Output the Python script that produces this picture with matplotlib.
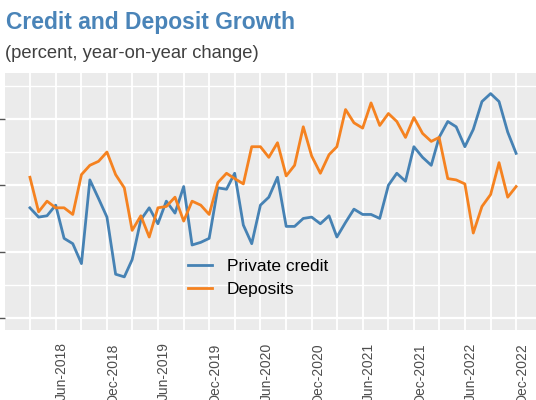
import matplotlib
matplotlib.use('Agg')
import matplotlib.pyplot as plt
import matplotlib.dates as mdates
import matplotlib.transforms as mtransforms
import pandas as pd

# monthly observations, Mar-2018 .. Dec-2022
meses = pd.date_range('2018-03-01', '2022-12-01', freq='MS')

credito_privado = [
    8.3, 7.6, 7.7, 8.5, 6.0, 5.6, 4.1, 10.4, 9.0, 7.6,
    3.3, 3.1, 4.4, 7.4, 8.3, 7.1, 8.8, 7.9, 9.9, 5.5,
    5.7, 6.0, 9.8, 9.7, 10.9, 7.0, 5.6, 8.5, 9.1, 10.6,
    6.9, 6.9, 7.5, 7.6, 7.1, 7.7, 6.1, 7.2, 8.2, 7.8,
    7.8, 7.5, 10.0, 10.9, 10.3, 12.9, 12.1, 11.5, 13.6, 14.8,
    14.4, 12.9, 14.2, 16.3, 16.9, 16.3, 14.0, 12.4,
]

depositos = [
    10.6, 8.0, 8.8, 8.3, 8.3, 7.8, 10.8, 11.5, 11.8, 12.5,
    10.8, 9.8, 6.6, 7.7, 6.1, 8.3, 8.4, 9.1, 7.3, 8.8,
    8.5, 7.8, 10.2, 10.9, 10.5, 10.1, 12.9, 12.9, 12.1, 13.2,
    10.7, 11.5, 14.4, 12.2, 10.9, 12.3, 12.9, 15.7, 14.7, 14.3,
    16.2, 14.5, 15.4, 14.8, 13.6, 15.1, 13.9, 13.3, 13.6, 10.5,
    10.4, 10.1, 6.4, 8.4, 9.3, 11.7, 9.1, 9.9,
]

series = ['Private credit', 'Deposits']
colores = ['#4682B4', '#F58220']

plt.rcParams['font.family'] = ['Liberation Sans', 'DejaVu Sans']

fig = plt.figure(figsize=(5.36, 4.0), dpi=100)
ax = fig.add_axes([5 / 536, 70 / 400, 531 / 536, 257 / 400])
ax.set_facecolor('#EBEBEB')

ax.plot(meses, credito_privado, color=colores[0], lw=2.0, label=series[0], zorder=3)
ax.plot(meses, depositos, color=colores[1], lw=2.0, label=series[1], zorder=3)

ax.set_xlim(mdates.date2num(pd.Timestamp('2017-12-02')),
            mdates.date2num(pd.Timestamp('2023-02-10')))
ax.set_ylim(-0.9, 18.45)

ax.xaxis.set_major_locator(mdates.MonthLocator(bymonth=[6, 12]))
ax.xaxis.set_minor_locator(mdates.MonthLocator(bymonth=[3, 9]))
ax.xaxis.set_major_formatter(mdates.DateFormatter('%b-%Y'))
ax.yaxis.set_major_locator(plt.MultipleLocator(5))
ax.yaxis.set_minor_locator(plt.MultipleLocator(2.5))

ax.grid(which='major', axis='y', color='white', lw=1.6)
ax.grid(which='minor', axis='y', color='white', lw=1.0)
ax.grid(which='both', axis='x', color='white', lw=1.3)
ax.set_axisbelow(True)

for s in ax.spines.values():
    s.set_visible(False)

ax.tick_params(axis='y', which='major', length=4, width=1, color='#555555', labelleft=False)
ax.tick_params(axis='y', which='minor', length=0)
ax.tick_params(axis='x', which='both', length=0)
ax.tick_params(axis='x', which='major', pad=9.0, labelsize=10, labelcolor='#4D4D4D',
               labelrotation=90)

desplaza = mtransforms.ScaledTranslation(6 / 100, 0, fig.dpi_scale_trans)
for lbl in ax.get_xticklabels():
    lbl.set_transform(lbl.get_transform() + desplaza)

ax.legend(loc='center left', bbox_to_anchor=(188 / 536, 1 - 278 / 400),
          bbox_transform=fig.transFigure, frameon=False, fontsize=12.5,
          handlelength=1.4, handletextpad=0.85, labelspacing=0.45,
          borderpad=0, borderaxespad=0)

fig.text(6 / 536, 1 - 29 / 400, 'Credit and Deposit Growth', fontsize=16.5,
         fontweight='bold', color='#4A84B8', va='baseline', ha='left')
fig.text(5 / 536, 1 - 58 / 400, '(percent, year-on-year change)', fontsize=13.2,
         color='#404040', va='baseline', ha='left')

fig.savefig('out.png', dpi=100)
